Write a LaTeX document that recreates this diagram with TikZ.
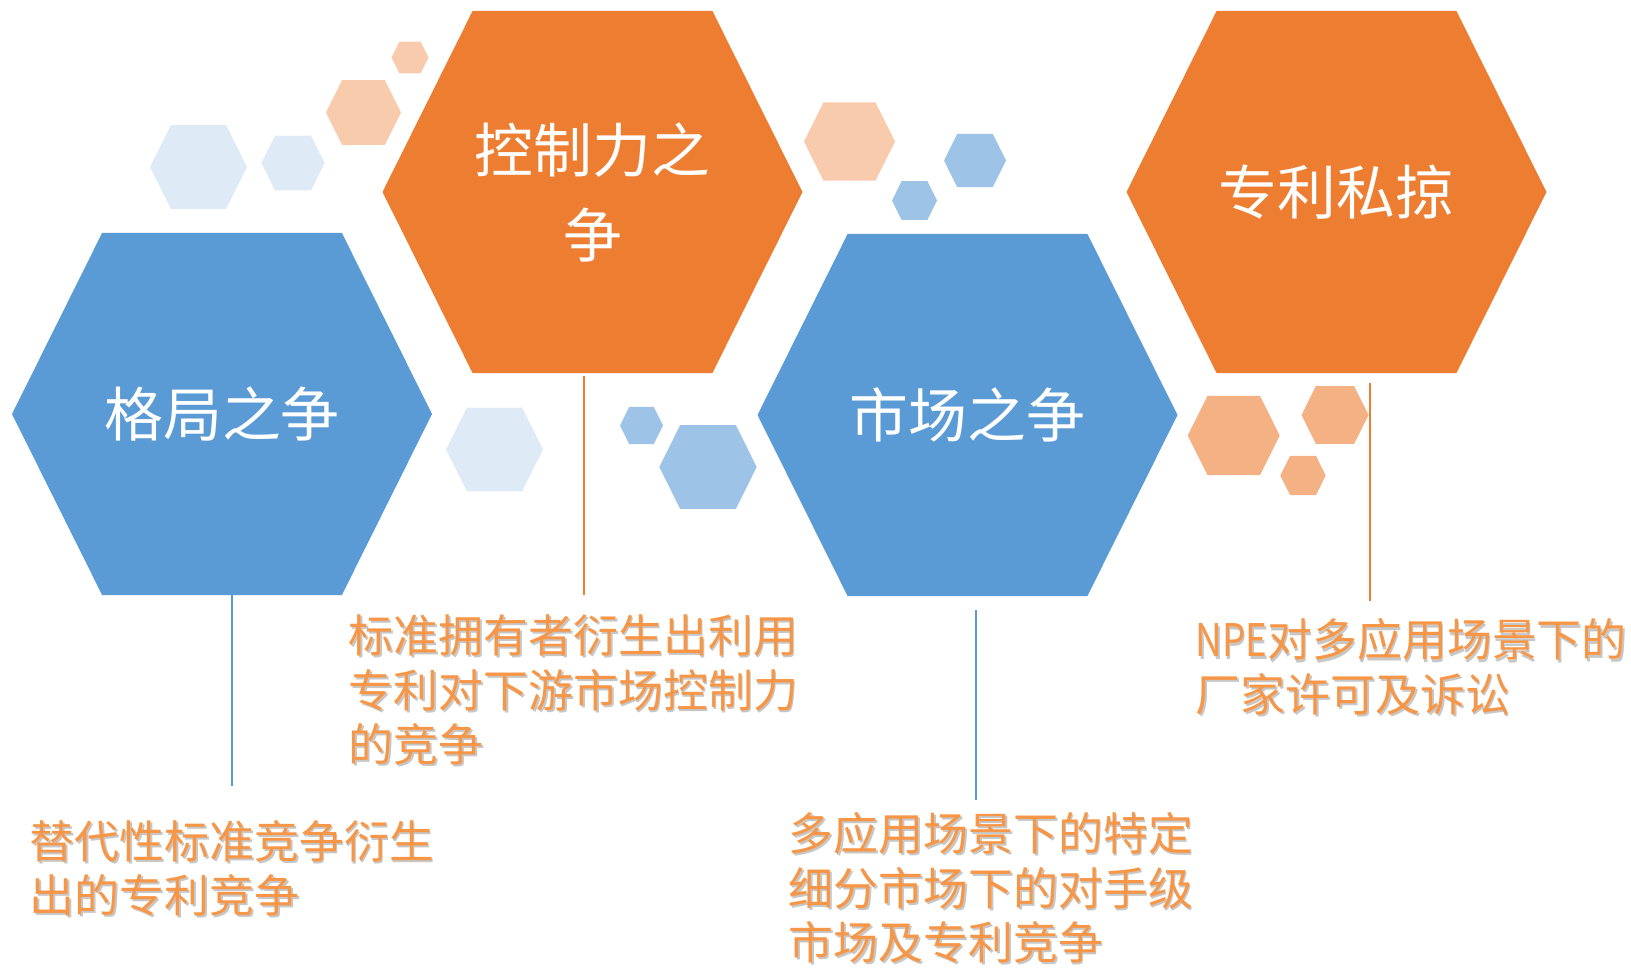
\documentclass[tikz,border=0pt]{standalone}
\usepackage{fontspec}
\setmainfont{Noto Sans CJK SC}
\definecolor{hexblue}{HTML}{5B9BD5}
\definecolor{hexorange}{HTML}{ED7D31}
\definecolor{bluelt}{HTML}{DEEBF7}
\definecolor{bluemd}{HTML}{9DC3E6}
\definecolor{peachlt}{HTML}{F8CBAD}
\definecolor{peachmd}{HTML}{F4B183}
\definecolor{notetext}{HTML}{F79646}
\newcommand{\shad}[1]{\rlap{\hspace{1pt}\raisebox{-1.2pt}{\color{black!22}#1}}#1}

\begin{document}
\begin{tikzpicture}[
  x=0.02cm, y=-0.02cm,
  title/.style={text=white, font=\fontsize{33.5pt}{48.4pt}\selectfont, align=center, inner sep=0pt},
  note/.style={text=notetext, font=\fontsize{25.6pt}{31pt}\selectfont, align=left, anchor=west, inner sep=0pt},
  bluelink/.style={draw=hexblue, line width=0.85pt},
  orangelink/.style={draw=hexorange, line width=0.85pt}
]
\useasboundingbox (0,0) rectangle (1631,967);

\foreach \cx/\cy/\r/\c in {410/57.5/18.5/peachlt, 363.5/112.5/37.5/peachlt, 198.5/167/48.5/bluelt,
  293/163/31.7/bluelt, 494.5/449.5/48.5/bluelt, 641.5/425.5/21.5/bluemd, 708/467/48.7/bluemd,
  849.5/141.5/45.5/peachlt, 975/160.5/31/bluemd, 914.5/200.5/22.5/bluemd,
  1233.7/435.5/46/peachmd, 1335/415/33.5/peachmd, 1303/475.5/22.7/peachmd,
  222/414/210/hexblue, 592.5/192/210/hexorange, 967.5/415/210/hexblue, 1336.5/192/210/hexorange}
  \fill[\c] ({\cx-\r},\cy) -- ({\cx-0.571*\r},{\cy-0.862*\r}) -- ({\cx+0.571*\r},{\cy-0.862*\r})
    -- ({\cx+\r},\cy) -- ({\cx+0.571*\r},{\cy+0.862*\r}) -- ({\cx-0.571*\r},{\cy+0.862*\r}) -- cycle;

\node[title] (geju) at (222,414) {格局之争};
\node[title] (kongzhi) at (592.5,192.5) {控制力之\\争};
\node[title] (shichang) at (967.5,415) {市场之争};
\node[title] (silue) at (1336.5,192) {专利私掠};

\node[note] (tidai) at (29,869.5) {\shad{替代性标准竞争衍生}\\\shad{出的专利竞争}};
\node[note] (biaozhun) at (348,691) {\shad{标准拥有者衍生出利用}\\\shad{专利对下游市场控制力}\\\shad{的竞争}};
\node[note] (changjing) at (788,889) {\shad{多应用场景下的特定}\\\shad{细分市场下的对手级}\\\shad{市场及专利竞争}};
\node[note] (npe) at (1195,668) {\shad{\scalebox{0.82}[1]{NPE}对多应用场景下的}\\\shad{厂家许可及诉讼}};

\coordinate (geju-s) at (232,595);
\coordinate (tidai-n) at (232,786);
\coordinate (kongzhi-s) at (584,376);
\coordinate (biaozhun-n) at (584,595);
\coordinate (shichang-s) at (976,610);
\coordinate (changjing-n) at (976,800);
\coordinate (silue-s) at (1370,383);
\coordinate (npe-n) at (1370,601);

\draw[bluelink] (geju-s) -- (tidai-n);
\draw[orangelink] (kongzhi-s) -- (biaozhun-n);
\draw[bluelink] (shichang-s) -- (changjing-n);
\draw[orangelink] (silue-s) -- (npe-n);
\end{tikzpicture}
\end{document}
